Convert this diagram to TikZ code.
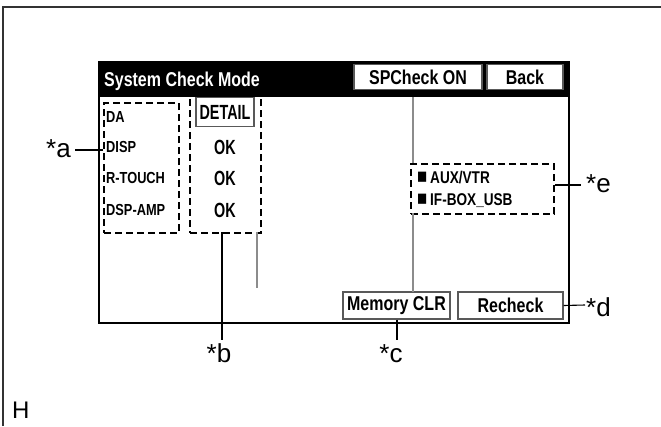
\documentclass[tikz,border=0pt]{standalone}
\usepackage{fontspec}
\setmainfont{Liberation Sans}
\newfontfamily\panelfont[FakeStretch=0.8]{Liberation Sans}
\newfontfamily\tallfont[FakeStretch=0.7]{Liberation Sans}
\usetikzlibrary{positioning}

\begin{document}
\begin{tikzpicture}[
    % Global styles
    x=1pt, y=-1pt,
    screenframe/.style={draw=black, line width=2.6pt},
    button/.style={draw=black!65, line width=1.2pt, fill=white, inner sep=0pt,
        font=\panelfont\bfseries\fontsize{20}{20}\selectfont},
    dashbox/.style={draw=black, line width=2.2pt, dash pattern=on 7pt off 4pt, inner sep=0pt},
    itemtext/.style={anchor=west, inner sep=0pt, font=\panelfont\bfseries\fontsize{16}{16}\selectfont},
    oktext/.style={inner sep=0pt, font=\tallfont\bfseries\fontsize{20.5}{20.5}\selectfont},
    callout/.style={inner sep=0pt, font=\fontsize{26}{26}\selectfont},
    leader/.style={draw=black, line width=1.1pt},
    guide/.style={draw=black!45, line width=1.3pt}
    ]
    \useasboundingbox (0,0) rectangle (661,426);

    % ===========================
    % OUTER FRAME
    % ===========================
    \draw[line width=1.4pt, black!80] (3,426) -- (3,7) -- (661,7);

    % ===========================
    % SCREEN
    % ===========================
    \coordinate (scrNW) at (99,62);
    \coordinate (scrSE) at (569,323);
    \fill[black] (scrNW) rectangle (569,97);
    \draw[screenframe] (scrNW) rectangle (scrSE);

    % Title bar
    \node[anchor=west, inner sep=0pt, text=white,
        font=\panelfont\bfseries\fontsize{20}{20}\selectfont] (title) at (104,81) {System Check Mode};
    \node[button, minimum width=128, minimum height=25] (spcheck) at (418,77) {SPCheck ON};
    \node[button, minimum width=76, minimum height=25] (back) at (525,77) {Back};

    % Dashed groups
    \node[dashbox, minimum width=75, minimum height=130, anchor=north west] (itemcol) at (103,102) {};
    \node[dashbox, minimum width=71, minimum height=139, anchor=north west] (statcol) at (189,93) {};
    \node[dashbox, minimum width=143, minimum height=50, anchor=north west] (srcbox) at (410,163) {};

    % Items
    \node[itemtext] (da) at (106,117) {DA};
    \node[itemtext] (disp) at (106,147) {DISP};
    \node[itemtext] (rtouch) at (106,178) {R-TOUCH};
    \node[itemtext] (dspamp) at (106,210) {DSP-AMP};

    % Status
    \node[button, font=\tallfont\bfseries\fontsize{20.5}{20.5}\selectfont,
        minimum width=58, minimum height=29] (detail) at (225,112) {DETAIL};
    \node[oktext] (ok1) at (225,147) {OK};
    \node[oktext] (ok2) at (225,178) {OK};
    \node[oktext] (ok3) at (225,210) {OK};

    % Sources
    \node[itemtext, font=\panelfont\bfseries\fontsize{17}{17}\selectfont] (aux) at (417,178)
        {{\fontsize{21}{21}\selectfont■}\,AUX/VTR};
    \node[itemtext, font=\panelfont\bfseries\fontsize{17}{17}\selectfont] (ifbox) at (417,201)
        {{\fontsize{21}{21}\selectfont■}\,IF-BOX\_USB};

    % Bottom buttons
    \node[button, minimum width=107, minimum height=27] (memclr) at (396.5,305.5) {Memory CLR};
    \node[button, minimum width=105, minimum height=27] (recheck) at (510.5,305.5) {Recheck};

    % Gray guide lines
    \draw[guide] (413,97) -- (413,163);
    \draw[guide] (413,213) -- (413,292);
    \draw[guide] (257,232) -- (257,288);

    % ===========================
    % CALLOUTS
    % ===========================
    \node[callout, anchor=base east] (la) at (71,157) {*a};
    \node[callout, anchor=base] (lb) at (219,362) {*b};
    \node[callout, anchor=base] (lc) at (391,362) {*c};
    \node[callout, anchor=base west] (ld) at (586,316) {*d};
    \node[callout, anchor=base west] (le) at (586,192) {*e};

    \coordinate (aend) at (75,150);
    \coordinate (bend) at (222,340);
    \coordinate (cend) at (397,340);
    \coordinate (dend) at (585,305);
    \coordinate (eend) at (581,185);

    \draw[leader] (aend) -- (itemcol.west |- aend);
    \draw[leader] (222,232) -- (bend);
    \draw[leader] (cend |- memclr.south) -- (cend);
    \draw[leader] (recheck.east) -- (dend);
    \draw[leader] (srcbox.east |- eend) -- (eend);

    % Letter H
    \node[inner sep=0pt, anchor=base west, font=\fontsize{24}{24}\selectfont] (hmark) at (12,418) {H};

\end{tikzpicture}
\end{document}
